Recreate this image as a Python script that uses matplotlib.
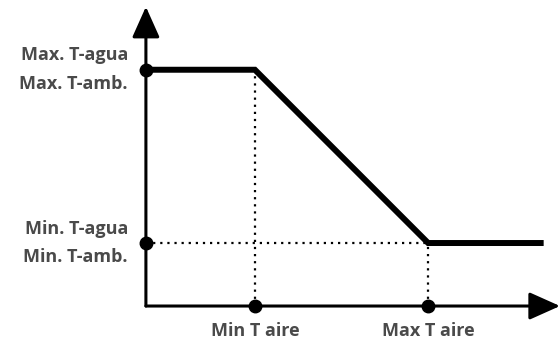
import matplotlib
matplotlib.use("Agg")
import matplotlib.pyplot as plt

# curve (axis units: x = outdoor air temperature, y = setpoint)
curve_x = [0, 1.0, 2.59, 3.65]
curve_y = [3.75, 3.75, 1.0, 1.0]

y_marks = [3.75, 1.0]
y_labels = ["Max. T-agua\nMax. T-amb.", "Min. T-agua\nMin. T-amb."]
x_marks = [1.0, 2.59]
x_labels = ["Min T aire", "Max T aire"]

text_col = "#4a4a4a"
plt.rcParams['font.family'] = ['Open Sans', 'DejaVu Sans']

fig = plt.figure(figsize=(5.6, 3.42), dpi=100)
ax = fig.add_axes([0, 0, 1, 1])
ax.set_xlim(-1.339, 3.80)
ax.set_ylim(-0.571, 4.857)
ax.axis('off')

# dotted guides
ax.plot([0, x_marks[1]], [y_marks[1], y_marks[1]], ls=(0, (1, 2.2)), lw=1.6, color='black')
for xm, ym in zip(x_marks, [y_marks[0], y_marks[1]]):
    ax.plot([xm, xm], [0, ym], ls=(0, (1, 2.2)), lw=1.6, color='black')

# axes with arrows
arrow = dict(arrowstyle='-|>,head_length=1.9,head_width=0.85', lw=2.2, color='black',
             mutation_scale=10, shrinkA=0, shrinkB=0)
ax.annotate('', xy=(3.80, 0), xytext=(0, 0), arrowprops=arrow)
ax.annotate('', xy=(0, 4.75), xytext=(0, 0), arrowprops=arrow)

# curve
ax.plot(curve_x, curve_y, lw=4.3, color='black', solid_joinstyle='miter', solid_capstyle='butt')

# markers
ax.plot([0] * len(y_marks), y_marks, 'o', ms=9, color='black', zorder=5)
ax.plot(x_marks, [0] * len(x_marks), 'o', ms=9, color='black', zorder=5)

for ym, lab in zip(y_marks, y_labels):
    ax.text(-0.165, ym, lab, ha='right', va='center', fontsize=13, fontweight='bold',
            color=text_col, linespacing=1.75)
for xm, lab in zip(x_marks, x_labels):
    ax.text(xm, -0.40, lab, ha='center', va='center', fontsize=13, fontweight='bold',
            color=text_col)

fig.savefig("out.png", dpi=100)
